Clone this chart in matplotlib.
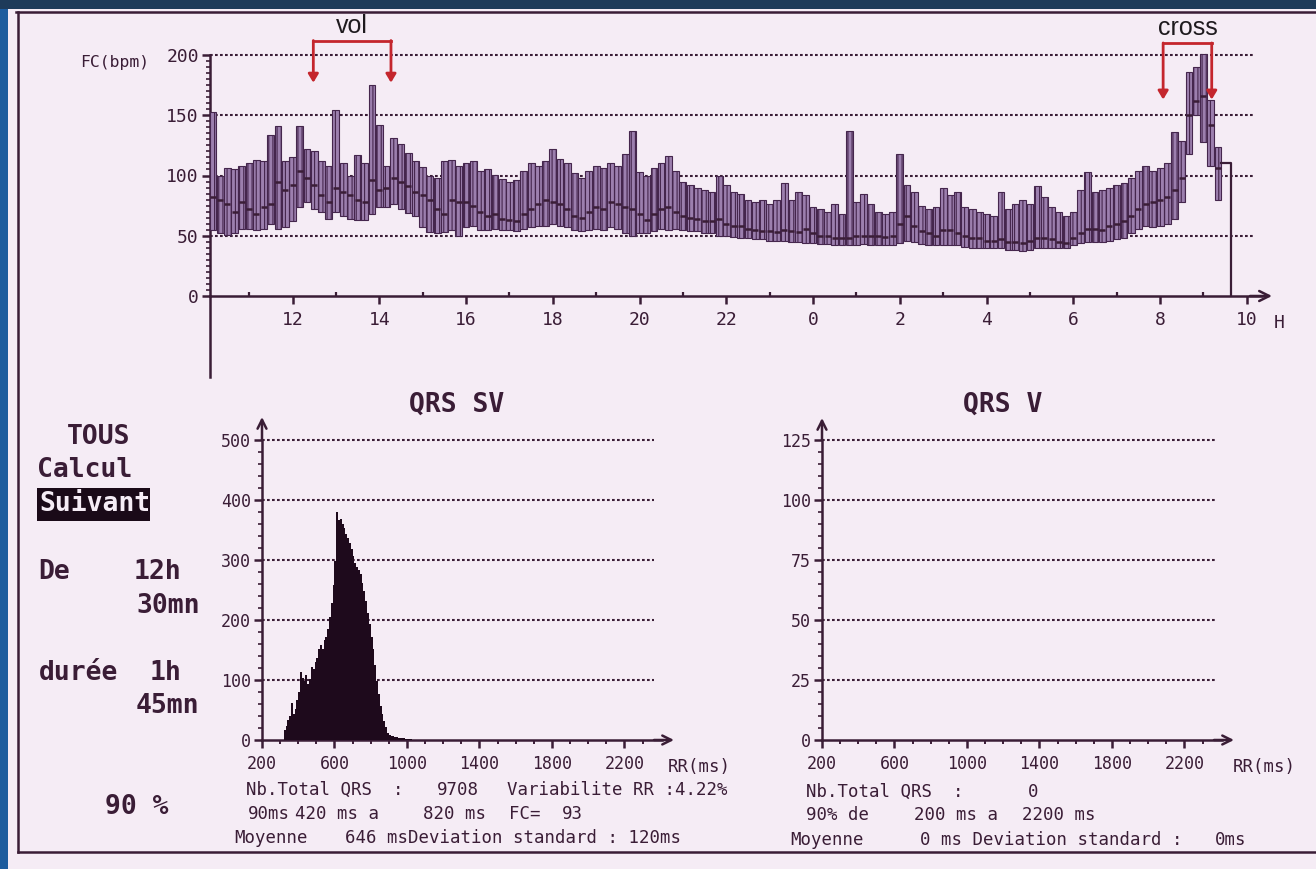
import numpy as np
import matplotlib
matplotlib.use("Agg")
import matplotlib.pyplot as plt
from matplotlib.patches import Rectangle
from matplotlib.lines import Line2D

W, H = 1316, 869
PAPER = '#f5ecf5'
INK = '#3a1d36'
BAR = '#9c7fae'
BAR_EDGE = '#45264d'
RED = '#c4262d'
MONO = 'DejaVu Sans Mono'
plt.rcParams['hatch.linewidth'] = 0.8

# heart rate trend: one bar every 10 min, from 10h10 to 9h20 next day (hours > 24 = next day)
fc_start = 10 + 10 / 60
fc_high = [153, 100, 106, 105, 108,
           110, 113, 112, 134, 141, 112,
           115, 141, 122, 120, 112, 108,
           154, 110, 100, 117, 110, 175,
           142, 108, 131, 126, 119, 112,
           107, 100, 98, 112, 113, 108,
           110, 112, 104, 105, 100, 97,
           95, 96, 104, 110, 108, 112,
           122, 114, 110, 102, 98, 104,
           108, 106, 110, 108, 118, 137,
           103, 100, 106, 110, 116, 104,
           95, 92, 90, 88, 86, 100,
           92, 86, 85, 80, 78, 80,
           76, 80, 94, 80, 86, 84,
           74, 72, 70, 76, 68, 137,
           78, 85, 76, 70, 68, 70,
           118, 92, 86, 75, 72, 74,
           90, 84, 86, 74, 72, 70,
           68, 66, 86, 72, 76, 80,
           76, 91, 82, 74, 70, 66,
           70, 88, 103, 86, 88, 90,
           92, 94, 98, 104, 108, 104,
           106, 110, 136, 129, 186, 190,
           201, 163, 124]
fc_mean = [82, 80, 76, 70, 78,
           72, 68, 74, 76, 95, 88,
           92, 104, 98, 92, 84, 78,
           90, 86, 84, 80, 78, 96,
           88, 90, 98, 95, 91, 86,
           84, 80, 72, 68, 80, 78,
           78, 75, 70, 66, 68, 64,
           63, 62, 68, 72, 76, 80,
           78, 76, 72, 66, 65, 70,
           74, 72, 78, 76, 74, 72,
           68, 63, 68, 72, 74, 70,
           66, 65, 64, 62, 62, 64,
           60, 58, 58, 56, 55, 54,
           54, 53, 55, 54, 53, 56,
           52, 50, 50, 48, 48, 48,
           50, 50, 50, 50, 49, 50,
           60, 66, 58, 54, 52, 50,
           55, 55, 52, 50, 48, 48,
           46, 46, 47, 45, 45, 44,
           46, 48, 48, 47, 45, 44,
           48, 52, 56, 56, 55, 58,
           60, 62, 66, 72, 76, 78,
           80, 82, 88, 98, 150, 162,
           166, 142, 106]
fc_low = [55, 52, 51, 52, 56,
          56, 55, 56, 60, 56, 57,
          62, 74, 78, 72, 70, 64,
          70, 66, 64, 63, 63, 68,
          74, 74, 76, 72, 69, 66,
          57, 53, 52, 53, 55, 50,
          57, 58, 55, 55, 56, 55,
          55, 54, 56, 57, 58, 58,
          60, 58, 57, 55, 54, 55,
          56, 55, 57, 56, 52, 50,
          52, 52, 54, 56, 55, 56,
          55, 54, 54, 52, 52, 50,
          50, 49, 48, 48, 47, 47,
          46, 46, 46, 45, 45, 44,
          44, 43, 43, 42, 42, 42,
          42, 43, 42, 42, 42, 42,
          44, 46, 45, 43, 42, 42,
          42, 42, 42, 41, 40, 40,
          40, 40, 40, 38, 38, 37,
          38, 40, 40, 40, 40, 40,
          42, 44, 45, 45, 45, 46,
          47, 48, 52, 56, 58, 57,
          58, 60, 64, 78, 118, 150,
          128, 108, 80]
fc_tail_level = 110
fc_tail = (33.41, 33.64)
hour_ticks = [12, 14, 16, 18, 20, 22, 24, 26, 28, 30, 32, 34]
hour_labels = ['12', '14', '16', '18', '20', '22', '0', '2', '4', '6', '8', '10']

vol_span = (12.48, 14.27)
cross_span = (32.07, 33.19)

# RR histogram, 10 ms bins starting at 320 ms
rr_first_bin = 320
rr_bin = 10
rr_counts = [16, 24, 33, 40, 62, 44, 52, 66, 80, 114,
             104, 98, 108, 94, 102, 122, 118, 130, 136, 152,
             159, 152, 166, 172, 185, 205, 228, 258, 298, 380,
             367, 369, 360, 354, 344, 336, 328, 318, 306, 295,
             288, 284, 276, 262, 249, 231, 212, 193, 172, 152,
             125, 98, 76, 57, 44, 32, 21, 11, 9, 7,
             6, 5, 5, 4, 3, 3, 3, 2, 2, 2, 1]
rr_ticks = [200, 600, 1000, 1400, 1800, 2200]


def fx(x):
    return x / W


def fy(y):
    return 1 - y / H


def add_ax(x0, x1, ytop, ybot):
    a = fig.add_axes([fx(x0), fy(ybot), (x1 - x0) / W, (ybot - ytop) / H])
    a.patch.set_visible(False)
    for s in ['top', 'right']:
        a.spines[s].set_visible(False)
    for s in ['left', 'bottom']:
        a.spines[s].set_color(INK)
        a.spines[s].set_linewidth(1.8)
    return a


def ftext(x, y, s, **kw):
    kw.setdefault('color', INK)
    kw.setdefault('family', MONO)
    kw.setdefault('va', 'center')
    fig.text(fx(x), fy(y), s, **kw)


fig = plt.figure(figsize=(W / 100, H / 100), dpi=100, facecolor='#1e3b5a')
fig.add_artist(Rectangle((fx(8), 0), 1, fy(9), transform=fig.transFigure,
                         facecolor=PAPER, edgecolor='none', zorder=-10))
fig.add_artist(Rectangle((0, 0), fx(8), fy(9), transform=fig.transFigure,
                         facecolor='#1d5c9e', edgecolor='none', zorder=-10))
# printout frame
for xs, ys in [((16, 1316), (12, 12)), ((18, 18), (12, 852)), ((18, 1316), (852, 852))]:
    fig.add_artist(Line2D([fx(v) for v in xs], [fy(v) for v in ys], color=INK, lw=1.8,
                          zorder=-5))

# ---------------- heart rate trend ----------------
def t_at(px):
    return 12 + (px - 292.5) / 43.38


ax = add_ax(210, 1272, 49, 296)
t0, t1 = t_at(210), t_at(1272)
ax.set_xlim(t0, t1)
ax.set_ylim(0, (296 - 49) / 1.205)
ax.spines['left'].set_bounds(0, 200)
ax.spines['bottom'].set_bounds(t0, t_at(1262))
ax.annotate('', xy=(t1, 0), xytext=(t_at(1250), 0), annotation_clip=False,
            arrowprops=dict(arrowstyle='->', color=INK, lw=1.8, mutation_scale=18,
                            shrinkA=0, shrinkB=0))
ax.plot([t0, t0], [0, -(377 - 296) / 1.205], color=INK, lw=1.8, clip_on=False)

ax.hlines([50, 100, 150, 200], t0, t_at(1255), colors=INK, lw=1.5,
          linestyles=(0, (1.3, 1.1)), zorder=1)

fc_times = fc_start + np.arange(len(fc_high)) / 6
hi = np.array(fc_high)
lo = np.array(fc_low)
ax.bar(fc_times, hi - lo, bottom=lo, width=0.95 / 6, color=BAR, edgecolor=BAR_EDGE,
       linewidth=0.8, hatch='||||', zorder=3)
ax.plot(fc_times, fc_mean, ls='none', marker='_', ms=5, mew=1.8, color=INK, zorder=4)
ax.plot([fc_tail[0], fc_tail[1], fc_tail[1]], [fc_tail_level, fc_tail_level, 0],
        color=INK, lw=1.6, zorder=3)

ax.set_xticks(hour_ticks)
ax.set_xticklabels(hour_labels)
ax.set_xticks(np.arange(11, 34, 2), minor=True)
ax.set_yticks([0, 50, 100, 150, 200])
ax.set_yticks(np.arange(0, 201, 5), minor=True)
ax.tick_params(axis='both', which='major', direction='out', length=6, width=1.8,
               color=INK, labelcolor=INK, labelsize=13, labelfontfamily=MONO, pad=2)
ax.tick_params(axis='x', which='minor', direction='in', length=3, width=1.6, color=INK)
ax.tick_params(axis='y', which='minor', direction='out', length=3, width=1.2, color=INK)
ax.tick_params(axis='x', which='major', pad=5)
ftext(1274, 323, 'H', fontsize=13)
ftext(80, 63, 'FC(bpm)', fontsize=11.8)

# red annotations
for span, top, tip, label, ty in [(vol_span, 212, 177, 'vol', 224),
                                  (cross_span, 210, 163, 'cross', 222)]:
    ax.plot([span[0], span[1]], [top, top], color=RED, lw=2, clip_on=False,
            solid_capstyle='projecting')
    for xv in span:
        ax.annotate('', xy=(xv, tip), xytext=(xv, top), annotation_clip=False,
                    arrowprops=dict(arrowstyle='-|>,head_length=0.5,head_width=0.3',
                                    color=RED, lw=2, shrinkA=0, shrinkB=0))
    ax.text((span[0] + span[1]) / 2, ty, label, ha='center', va='center', fontsize=18,
            family='Liberation Sans', color='#1e1a1e', clip_on=False)


# ---------------- RR histograms ----------------
def hist_axes(x_axis, ytop, grid_vals, yminor, px_per_count, grid_end, arrow_x):
    ms_per_px = 1 / 0.1812
    a = add_ax(x_axis, arrow_x, ytop, 740)
    a.set_xlim(200, 200 + (arrow_x - x_axis) * ms_per_px)
    a.set_ylim(0, (740 - ytop) / px_per_count)
    a.spines['left'].set_bounds(0, grid_vals[-1])
    a.spines['bottom'].set_bounds(200, 200 + (arrow_x - 12 - x_axis) * ms_per_px)
    a.annotate('', xy=(200, (740 - ytop) / px_per_count), xytext=(200, grid_vals[-1]),
               annotation_clip=False,
               arrowprops=dict(arrowstyle='->', color=INK, lw=1.8, mutation_scale=16,
                               shrinkA=0, shrinkB=0))
    a.annotate('', xy=(200 + (arrow_x - x_axis) * ms_per_px, 0),
               xytext=(200 + (arrow_x - 20 - x_axis) * ms_per_px, 0), annotation_clip=False,
               arrowprops=dict(arrowstyle='->', color=INK, lw=1.8, mutation_scale=16,
                               shrinkA=0, shrinkB=0))
    a.hlines(grid_vals[1:], 200, 200 + (grid_end - x_axis) * ms_per_px, colors=INK, lw=1.5,
             linestyles=(0, (1.3, 1.1)), zorder=1)
    a.set_xticks(rr_ticks)
    a.set_xticks(np.arange(300, 2400, 100), minor=True)
    a.set_yticks(grid_vals)
    a.set_yticks(np.arange(0, grid_vals[-1] + 1, yminor), minor=True)
    a.tick_params(axis='both', which='major', direction='out', length=6, width=1.8,
                  color=INK, labelcolor=INK, labelsize=12, labelfontfamily=MONO, pad=2)
    a.tick_params(axis='x', which='major', pad=5)
    a.tick_params(axis='x', which='minor', direction='out', length=3, width=1.4, color=INK)
    a.tick_params(axis='y', which='minor', direction='out', length=3, width=1.2, color=INK)
    return a


ax_sv = hist_axes(262, 417, [0, 100, 200, 300, 400, 500], 20, 0.6, 654, 674)
rr_edges = rr_first_bin + rr_bin * np.arange(len(rr_counts))
ax_sv.bar(rr_edges, rr_counts, width=rr_bin, align='edge', color='#1e0a1c',
          linewidth=0, zorder=3)

ax_v = hist_axes(822, 418, [0, 25, 50, 75, 100, 125], 5, 2.4, 1217, 1234)

ftext(457, 405, 'QRS SV', fontsize=19, weight='bold', ha='center')
ftext(1003, 405, 'QRS V', fontsize=19, weight='bold', ha='center')
ftext(668, 767, 'RR(ms)', fontsize=12.5)
ftext(1233, 767, 'RR(ms)', fontsize=12.5)

stats_sv = [(246, 790, 'Nb.Total QRS'), (393, 790, ':'), (437, 790, '9708'),
            (507, 790, 'Variabilite RR :4.22%'),
            (248, 814, '90ms'), (295, 814, '420 ms a'), (423, 814, '820 ms'),
            (509, 814, 'FC='), (562, 814, '93'),
            (234, 838, 'Moyenne'), (345, 838, '646 msDeviation standard : 120ms')]
stats_v = [(806, 792, 'Nb.Total QRS  :'), (1028, 792, '0'),
           (806, 815, '90% de'), (914, 815, '200 ms a'), (1022, 815, '2200 ms'),
           (790, 840, 'Moyenne'), (920, 840, '0 ms Deviation standard :'), (1215, 840, '0ms')]
for x, y, s in stats_sv + stats_v:
    ftext(x, y, s, fontsize=12.5)

# ---------------- left menu ----------------
fig.add_artist(Rectangle((fx(37), fy(521)), (150 - 37) / W, (521 - 488) / H,
                         transform=fig.transFigure, facecolor='#1a0a18', edgecolor='none'))
menu = [(67, 437, 'TOUS', 'left', INK), (37, 470, 'Calcul', 'left', INK),
        (39, 504, 'Suivant', 'left', PAPER),
        (38, 572, 'De', 'left', INK), (181, 572, '12h', 'right', INK),
        (136, 606, '30mn', 'left', INK),
        (39, 673, 'durée', 'left', INK), (181, 673, '1h', 'right', INK),
        (136, 706, '45mn', 'left', INK),
        (105, 807, '90 %', 'left', INK)]
for x, y, s, ha, c in menu:
    ftext(x, y, s, fontsize=19, weight='bold', ha=ha, color=c)

fig.savefig('out.png', dpi=100, facecolor=fig.get_facecolor())
